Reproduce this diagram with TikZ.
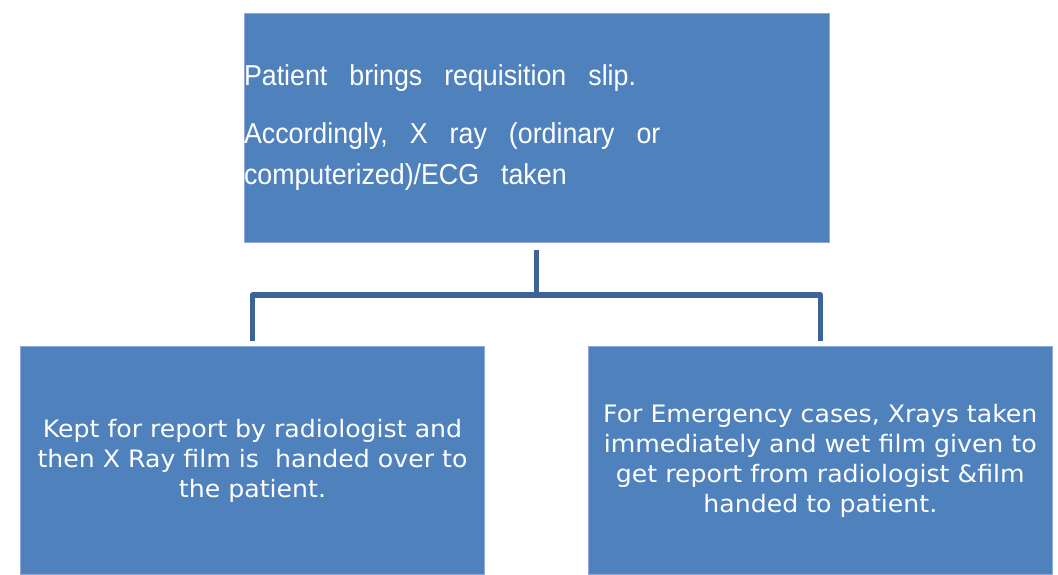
\documentclass[tikz,border=0pt]{standalone}
\usepackage{fontspec}
\newfontfamily\headfont[FakeStretch=0.93]{Liberation Sans}
\newfontfamily\stepfont[FakeStretch=1.05]{DejaVu Sans}
\newcommand\headstyle{\headfont\fontsize{28.8}{41}\selectfont}
\newcommand\widespaces{\spaceskip 22pt\relax}
\newcommand\stepstyle{\stepfont\fontsize{24}{30}\selectfont}
\definecolor{boxfill}{HTML}{4F81BD}
\definecolor{boxline}{HTML}{8EAADB}
\definecolor{linkblue}{HTML}{3C6496}
\begin{document}
\begin{tikzpicture}[x=1pt,y=-1pt,
  box/.style={fill=boxfill, draw=boxline, line width=1pt, text=white, inner sep=0pt},
  conn/.style={draw=linkblue, line width=5.5pt, line join=round}]
\useasboundingbox (0,0) rectangle (1058,574);

% requisition step
\node[box, minimum width=585pt, minimum height=229pt, text width=585pt, align=left,
  font=\headstyle] (top) at (536.5,127.5)
  {\widespaces Patient brings requisition slip.\\[17pt]
   Accordingly, X ray (ordinary or\\
   computerized)/ECG taken};

% the two outcomes
\node[box, minimum width=464pt, minimum height=228pt, align=center,
  font=\stepstyle] (left) at (252.5,460.5)
  {Kept for report by radiologist and\\
   then X Ray film is\ \ handed over to\\
   the patient.};
\node[box, minimum width=464pt, minimum height=228pt, align=center,
  font=\stepstyle] (right) at (820.3,460.5)
  {For Emergency cases, Xrays taken\\
   immediately and wet film given to\\
   get report from radiologist \&film\\
   handed to patient.};

% branching connector
\coordinate (hub) at (536.5,295);
\draw[conn] ([yshift=-7pt]top.south) -- (hub);
\draw[conn] ([yshift=5pt]left.north) |- (hub) -| ([yshift=5pt]right.north);
\end{tikzpicture}
\end{document}
